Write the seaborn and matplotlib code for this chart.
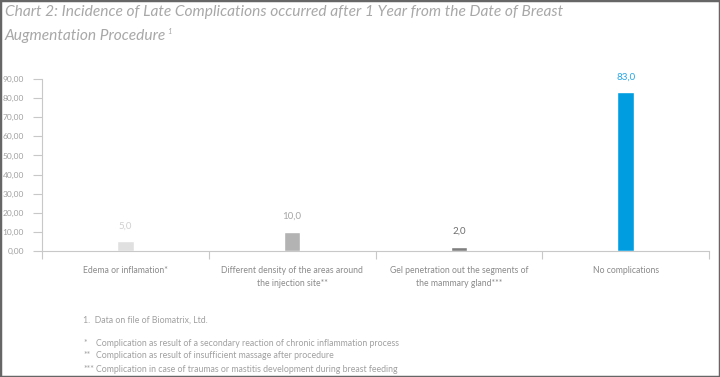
import matplotlib
matplotlib.use("Agg")
import matplotlib.pyplot as plt
import seaborn as sns
import numpy as np
from matplotlib.patches import Rectangle

categories = ["Edema or inflamation*",
              "Different density of the areas around\nthe injection site**",
              "Gel penetration out the segments of\nthe mammary gland***",
              "No complications"]
values = [5.0, 10.0, 2.0, 83.0]
bar_colors = ["#e0e0e0", "#b3b3b3", "#7f7f7f", "#009de0"]
label_colors = ["#d0d0d0", "#a6a6a6", "#6e6e6e", "#27a6e6"]
yticks = [0, 10, 20, 30, 40, 50, 60, 70, 80, 90]
title_line1 = "Chart 2: Incidence of Late Complications occurred after 1 Year from the Date of Breast"
title_line2 = "Augmentation Procedure"
title_sup = "1"
footnote_num = "1.  Data on file of Biomatrix, Ltd."
footnote_marks = ["*", "**", "***"]
footnote_texts = ["Complication as result of a secondary reaction of chronic inflammation process",
                  "Complication as result of insufficient massage after procedure",
                  "Complication in case of traumas or mastitis development during breast feeding"]

sns.set_style("white")
plt.rcParams['font.family'] = ['Lato', 'DejaVu Sans']

W, H = 720, 377
fig = plt.figure(figsize=(W/100, H/100), dpi=100)
ax = fig.add_axes([42/W, 1-251/H, (709-42)/W, (251-79)/H])

sns.barplot(x=categories, y=values, hue=categories, palette=bar_colors,
            legend=False, width=0.1, ax=ax, saturation=1)

ax.set_ylim(0, 90)
ax.set_xlim(-0.5, 3.5)
for s in ["top", "right"]:
    ax.spines[s].set_visible(False)
for s in ["left", "bottom"]:
    ax.spines[s].set_color("#c8c8c8")
    ax.spines[s].set_linewidth(0.8)

ax.set_yticks(yticks)
ax.set_yticklabels([f"{v:.2f}".replace(".", ",") for v in yticks], color="#a0a0a0", fontsize=6)
ax.tick_params(axis="y", length=6.5, width=0.8, color="#c8c8c8", pad=6.5, left=True)

ax.set_xticks([-0.5, 0.5, 1.5, 2.5, 3.5])
ax.set_xticklabels([])
ax.tick_params(axis="x", which="major", length=6, width=0.8, color="#c8c8c8", direction="out", bottom=True)
ax.set_xticks(range(4), minor=True)
ax.set_xticklabels(categories, minor=True, color="#8a8a8a", fontsize=6.2, linespacing=1.5)
ax.tick_params(axis="x", which="minor", length=0, pad=11)

for i, (v, c) in enumerate(zip(values, label_colors)):
    ax.annotate(f"{v:.1f}".replace(".", ","), (i, v), xytext=(0, 8), textcoords="offset points",
                ha="center", va="bottom", fontsize=7, color=c)

tcol = "#a8a8a8"
fig.text(5/W, 1-12/H, title_line1, ha="left", va="center", fontsize=11.2, style="italic", color=tcol)
t2 = fig.text(5/W, 1-36/H, title_line2, ha="left", va="center", fontsize=11.2, style="italic", color=tcol)
fig.canvas.draw()
bb = t2.get_window_extent()
fig.text((bb.x1 + 0.5)/W, 1-31/H, title_sup, ha="left", va="center", fontsize=5.5, style="italic", color=tcol)

fig.text(83/W, 1-320/H, footnote_num, ha="left", va="center", fontsize=6.3, color="#a0a0a0")
for k, (m, t) in enumerate(zip(footnote_marks, footnote_texts)):
    y = 1 - (343 + 13*k)/H
    fig.text(83/W, y, m, ha="left", va="center", fontsize=6.3, color="#a0a0a0")
    fig.text(96/W, y, t, ha="left", va="center", fontsize=6.3, color="#a0a0a0")

fig.patches.append(Rectangle((0, 0), 1, 1, transform=fig.transFigure, fill=False,
                             edgecolor="#666666", linewidth=2.5))

fig.savefig("out.png", dpi=100)
